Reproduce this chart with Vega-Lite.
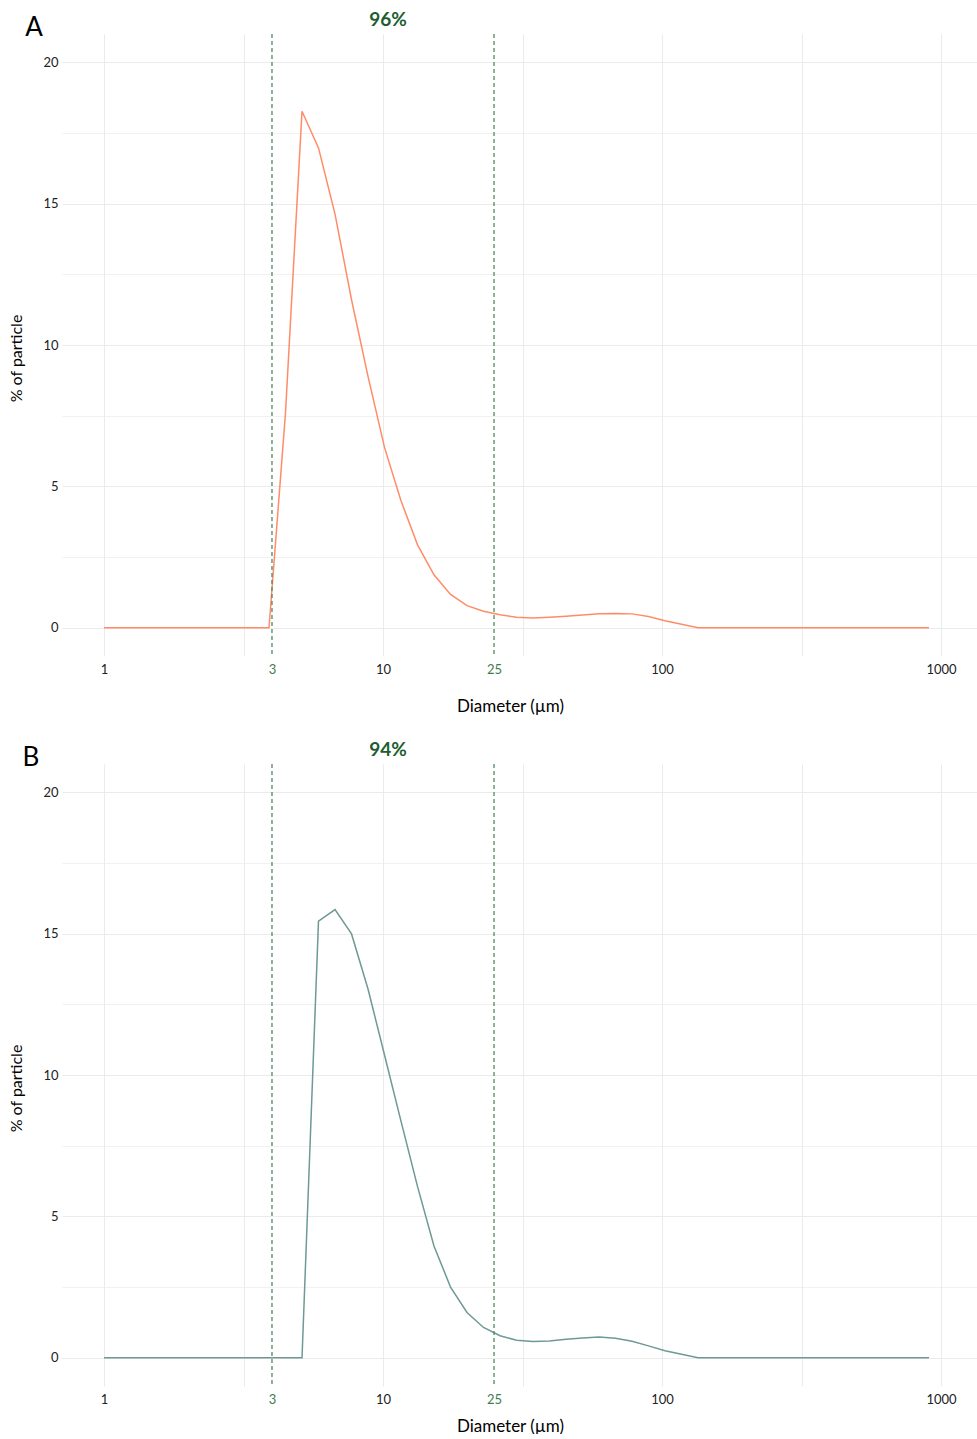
{
  "$schema": "https://vega.github.io/schema/vega-lite/v6.json",
  "background": "white",
  "padding": {"left": 8, "top": 10, "right": 0, "bottom": 0},
  "bounds": "flush",
  "spacing": 108,
  "config": {
    "font": "Lato",
    "view": {"stroke": null},
    "axis": {"labelColor": "#222222", "titleColor": "#000000"}
  },
  "datasets": {
    "a": [
      {"diameter": 1.000, "pct": 0}, {"diameter": 1.146, "pct": 0}, {"diameter": 1.313, "pct": 0},
      {"diameter": 1.504, "pct": 0}, {"diameter": 1.724, "pct": 0}, {"diameter": 1.975, "pct": 0},
      {"diameter": 2.263, "pct": 0}, {"diameter": 2.594, "pct": 0}, {"diameter": 2.972, "pct": 0},
      {"diameter": 3.406, "pct": 0}, {"diameter": 3.903, "pct": 0}, {"diameter": 4.472, "pct": 7.6},
      {"diameter": 5.125, "pct": 18.27}, {"diameter": 5.872, "pct": 16.97}, {"diameter": 6.730, "pct": 14.63},
      {"diameter": 7.712, "pct": 11.6}, {"diameter": 8.836, "pct": 8.89}, {"diameter": 10.13, "pct": 6.37},
      {"diameter": 11.60, "pct": 4.49}, {"diameter": 13.30, "pct": 2.93}, {"diameter": 15.23, "pct": 1.87},
      {"diameter": 17.46, "pct": 1.18}, {"diameter": 20.00, "pct": 0.78}, {"diameter": 22.92, "pct": 0.58},
      {"diameter": 26.27, "pct": 0.46}, {"diameter": 30.10, "pct": 0.37}, {"diameter": 34.49, "pct": 0.34},
      {"diameter": 39.53, "pct": 0.37}, {"diameter": 45.29, "pct": 0.41}, {"diameter": 51.90, "pct": 0.45},
      {"diameter": 59.47, "pct": 0.49}, {"diameter": 68.14, "pct": 0.50}, {"diameter": 78.09, "pct": 0.49},
      {"diameter": 89.46, "pct": 0.40}, {"diameter": 102.5, "pct": 0.25}, {"diameter": 117.5, "pct": 0.12},
      {"diameter": 134.6, "pct": 0}, {"diameter": 154.3, "pct": 0}, {"diameter": 176.8, "pct": 0},
      {"diameter": 202.6, "pct": 0}, {"diameter": 232.1, "pct": 0}, {"diameter": 266.0, "pct": 0},
      {"diameter": 304.8, "pct": 0}, {"diameter": 349.2, "pct": 0}, {"diameter": 400.2, "pct": 0},
      {"diameter": 458.5, "pct": 0}, {"diameter": 525.4, "pct": 0}, {"diameter": 602.0, "pct": 0},
      {"diameter": 689.9, "pct": 0}, {"diameter": 790.5, "pct": 0}, {"diameter": 905.8, "pct": 0}
    ],
    "b": [
      {"diameter": 1.000, "pct": 0}, {"diameter": 1.146, "pct": 0}, {"diameter": 1.313, "pct": 0},
      {"diameter": 1.504, "pct": 0}, {"diameter": 1.724, "pct": 0}, {"diameter": 1.975, "pct": 0},
      {"diameter": 2.263, "pct": 0}, {"diameter": 2.594, "pct": 0}, {"diameter": 2.972, "pct": 0},
      {"diameter": 3.406, "pct": 0}, {"diameter": 3.903, "pct": 0}, {"diameter": 4.472, "pct": 0},
      {"diameter": 5.125, "pct": 0}, {"diameter": 5.872, "pct": 15.44}, {"diameter": 6.730, "pct": 15.85},
      {"diameter": 7.712, "pct": 14.99}, {"diameter": 8.836, "pct": 13.04}, {"diameter": 10.13, "pct": 10.7},
      {"diameter": 11.60, "pct": 8.37}, {"diameter": 13.30, "pct": 6.05}, {"diameter": 15.23, "pct": 3.95},
      {"diameter": 17.46, "pct": 2.5}, {"diameter": 20.00, "pct": 1.6}, {"diameter": 22.92, "pct": 1.07},
      {"diameter": 26.27, "pct": 0.78}, {"diameter": 30.10, "pct": 0.62}, {"diameter": 34.49, "pct": 0.57},
      {"diameter": 39.53, "pct": 0.59}, {"diameter": 45.29, "pct": 0.65}, {"diameter": 51.90, "pct": 0.70},
      {"diameter": 59.47, "pct": 0.73}, {"diameter": 68.14, "pct": 0.69}, {"diameter": 78.09, "pct": 0.58},
      {"diameter": 89.46, "pct": 0.42}, {"diameter": 102.5, "pct": 0.25}, {"diameter": 117.5, "pct": 0.12},
      {"diameter": 134.6, "pct": 0}, {"diameter": 154.3, "pct": 0}, {"diameter": 176.8, "pct": 0},
      {"diameter": 202.6, "pct": 0}, {"diameter": 232.1, "pct": 0}, {"diameter": 266.0, "pct": 0},
      {"diameter": 304.8, "pct": 0}, {"diameter": 349.2, "pct": 0}, {"diameter": 400.2, "pct": 0},
      {"diameter": 458.5, "pct": 0}, {"diameter": 525.4, "pct": 0}, {"diameter": 602.0, "pct": 0},
      {"diameter": 689.9, "pct": 0}, {"diameter": 790.5, "pct": 0}, {"diameter": 905.8, "pct": 0}
    ],
    "cuts": [{"cut": 4}, {"cut": 25}]
  },
  "vconcat": [
    {
      "width": 915,
      "height": 622,
      "layer": [
        {
          "data": {"name": "a"},
          "mark": {"type": "line", "color": "#ff8c69", "strokeWidth": 1.5},
          "encoding": {
            "x": {"field": "diameter", "type": "quantitative", "title": "Diameter (µm)",
              "scale": {"type": "log", "domain": [0.707, 1346], "nice": false},
              "axis": {"values": [1, 3.1623, 4, 10, 25, 31.623, 100, 316.23, 1000],
                "labelExpr": "datum.value == 4 ? '3' : ((datum.value == 3.1623 || datum.value == 31.623 || datum.value == 316.23) ? '' : format(datum.value, 'd'))",
                "labelColor": {"condition": {"test": "datum.value == 4 || datum.value == 25", "value": "#3e7d4f"}, "value": "#222222"},
                "gridOpacity": {"condition": {"test": "datum.value == 4 || datum.value == 25", "value": 0}, "value": 1},
                "grid": true, "gridColor": "#ebebeb", "gridWidth": 1, "ticks": false, "domain": false,
                "labelPadding": 7, "labelFontSize": 13, "labelOverlap": false, "labelFlush": false,
                "titleFontSize": 17, "titleFontWeight": "normal", "titlePadding": 22, "titleX": 448}},
            "y": {"field": "pct", "type": "quantitative", "title": "% of particle",
              "scale": {"domain": [-1, 21], "nice": false, "zero": false},
              "axis": {"values": [0, 2.5, 5, 7.5, 10, 12.5, 15, 17.5, 20],
                "labelExpr": "datum.value % 5 == 0 ? datum.label : ''",
                "gridWidth": {"condition": {"test": "datum.value % 5 == 0", "value": 1}, "value": 0.7},
                "grid": true, "gridColor": "#ebebeb", "ticks": false, "domain": false,
                "labelPadding": 4, "labelFontSize": 13,
                "titleFontSize": 16, "titleFontWeight": "normal", "titlePadding": 18, "titleY": 324}}
          }
        },
        {
          "data": {"name": "cuts"},
          "mark": {"type": "rule", "color": "#4f8a5f", "strokeDash": [4, 3], "strokeWidth": 1.3},
          "encoding": {"x": {"field": "cut", "type": "quantitative", "title": "Diameter (µm)"}}
        },
        {
          "data": {"values": [{"label": "96%"}]},
          "mark": {"type": "text", "fontSize": 19, "fontWeight": "bold", "color": "#1d5e30"},
          "encoding": {"x": {"datum": 10.42}, "y": {"datum": 21.5}, "text": {"field": "label"}}
        },
        {
          "data": {"values": [{"panel": "A"}]},
          "mark": {"type": "text", "fontSize": 26, "color": "#000000"},
          "encoding": {"x": {"datum": 0.561}, "y": {"datum": 21.21}, "text": {"field": "panel"}}
        }
      ]
    },
    {
      "width": 915,
      "height": 622,
      "layer": [
        {
          "data": {"name": "b"},
          "mark": {"type": "line", "color": "#6f9995", "strokeWidth": 1.5},
          "encoding": {
            "x": {"field": "diameter", "type": "quantitative", "title": "Diameter (µm)",
              "scale": {"type": "log", "domain": [0.707, 1346], "nice": false},
              "axis": {"values": [1, 3.1623, 4, 10, 25, 31.623, 100, 316.23, 1000],
                "labelExpr": "datum.value == 4 ? '3' : ((datum.value == 3.1623 || datum.value == 31.623 || datum.value == 316.23) ? '' : format(datum.value, 'd'))",
                "labelColor": {"condition": {"test": "datum.value == 4 || datum.value == 25", "value": "#3e7d4f"}, "value": "#222222"},
                "gridOpacity": {"condition": {"test": "datum.value == 4 || datum.value == 25", "value": 0}, "value": 1},
                "grid": true, "gridColor": "#ebebeb", "gridWidth": 1, "ticks": false, "domain": false,
                "labelPadding": 7, "labelFontSize": 13, "labelOverlap": false, "labelFlush": false,
                "titleFontSize": 17, "titleFontWeight": "normal", "titlePadding": 12, "titleX": 448}},
            "y": {"field": "pct", "type": "quantitative", "title": "% of particle",
              "scale": {"domain": [-1, 21], "nice": false, "zero": false},
              "axis": {"values": [0, 2.5, 5, 7.5, 10, 12.5, 15, 17.5, 20],
                "labelExpr": "datum.value % 5 == 0 ? datum.label : ''",
                "gridWidth": {"condition": {"test": "datum.value % 5 == 0", "value": 1}, "value": 0.7},
                "grid": true, "gridColor": "#ebebeb", "ticks": false, "domain": false,
                "labelPadding": 4, "labelFontSize": 13,
                "titleFontSize": 16, "titleFontWeight": "normal", "titlePadding": 18, "titleY": 324}}
          }
        },
        {
          "data": {"name": "cuts"},
          "mark": {"type": "rule", "color": "#4f8a5f", "strokeDash": [4, 3], "strokeWidth": 1.3},
          "encoding": {"x": {"field": "cut", "type": "quantitative", "title": "Diameter (µm)"}}
        },
        {
          "data": {"values": [{"label": "94%"}]},
          "mark": {"type": "text", "fontSize": 19, "fontWeight": "bold", "color": "#1d5e30"},
          "encoding": {"x": {"datum": 10.42}, "y": {"datum": 21.5}, "text": {"field": "label"}}
        },
        {
          "data": {"values": [{"panel": "B"}]},
          "mark": {"type": "text", "fontSize": 26, "color": "#000000"},
          "encoding": {"x": {"datum": 0.547}, "y": {"datum": 21.21}, "text": {"field": "panel"}}
        }
      ]
    }
  ]
}
